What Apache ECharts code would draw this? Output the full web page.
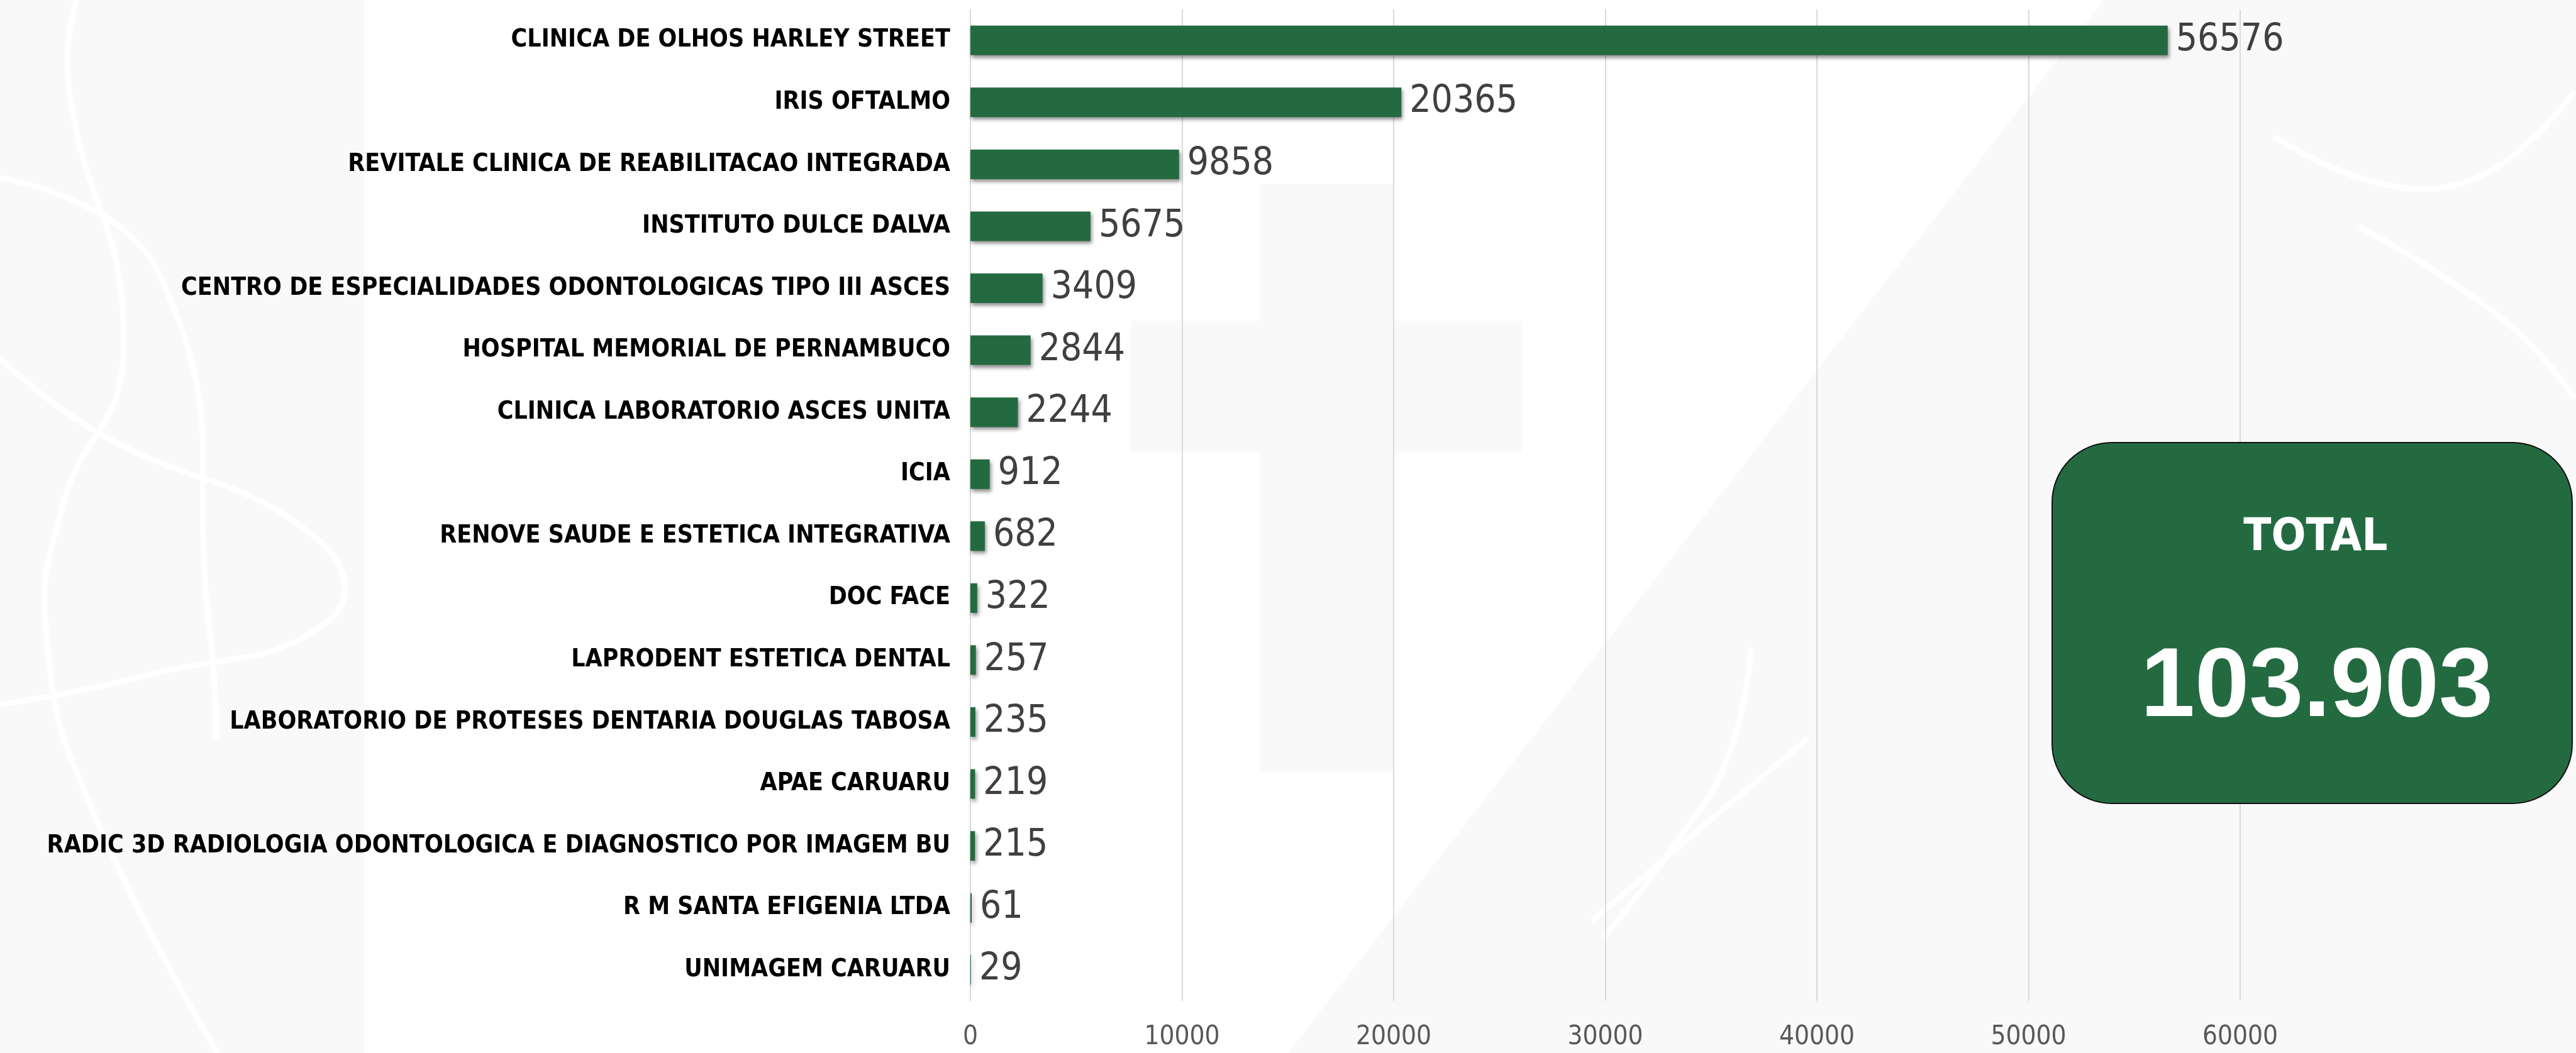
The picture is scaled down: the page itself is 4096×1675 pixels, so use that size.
<!DOCTYPE html>
<html>
<head>
<meta charset="utf-8">
<script src="https://cdn.jsdelivr.net/npm/echarts@6/dist/echarts.min.js"></script>
<style>
html,body{margin:0;padding:0;background:#ffffff;}
#chart{width:4096px;height:1675px;}
</style>
</head>
<body>
<div id="chart"></div>
<script>
var categories = [
  "CLINICA DE OLHOS HARLEY STREET",
  "IRIS OFTALMO",
  "REVITALE CLINICA DE REABILITACAO INTEGRADA",
  "INSTITUTO DULCE DALVA",
  "CENTRO DE ESPECIALIDADES ODONTOLOGICAS TIPO III ASCES",
  "HOSPITAL MEMORIAL DE PERNAMBUCO",
  "CLINICA LABORATORIO ASCES UNITA",
  "ICIA",
  "RENOVE SAUDE E ESTETICA INTEGRATIVA",
  "DOC FACE",
  "LAPRODENT ESTETICA DENTAL",
  "LABORATORIO DE PROTESES DENTARIA DOUGLAS TABOSA",
  "APAE CARUARU",
  "RADIC 3D RADIOLOGIA ODONTOLOGICA E DIAGNOSTICO POR IMAGEM BU",
  "R M SANTA EFIGENIA LTDA",
  "UNIMAGEM CARUARU"
];
var values = [56576, 20365, 9858, 5675, 3409, 2844, 2244, 912, 682, 322, 257, 235, 219, 215, 61, 29];
var axisTicks = [0, 10000, 20000, 30000, 40000, 50000, 60000];
var totalTitle = "TOTAL";
var totalValue = "103.903";

var S = 0.904;
function sc(pts){ return pts.map(function(p){ return [p[0]*S, p[1]*S]; }); }
var bgGrey = '#f9f9f9';
var stroke = function(pts){
  return {type:'polyline', z:-8, silent:true, shape:{points:sc(pts), smooth:0.5},
    style:{stroke:'#ffffff', lineWidth:9, fill:null}};
};

var chart = echarts.init(document.getElementById('chart'));
var option = {
  backgroundColor: '#ffffff',
  animation: false,
  graphic: [
    {type:'rect', z:-10, silent:true, shape:{x:0, y:0, width:579, height:1675}, style:{fill:bgGrey}},
    {type:'polygon', z:-10, silent:true, shape:{points:[[3345,0],[4096,0],[4096,1675],[2048,1675]]}, style:{fill:bgGrey}},
    {type:'rect', z:-10, silent:true, shape:{x:2003, y:292, width:212, height:937}, style:{fill:bgGrey}},
    {type:'rect', z:-10, silent:true, shape:{x:1797, y:510, width:623, height:210}, style:{fill:bgGrey}},
    stroke([[0,313],[281,484],[370,1121],[380,1300]]),
    stroke([[134,0],[121,153],[217,614],[108,897],[83,1133],[159,1417],[383,1852]]),
    stroke([[0,630],[170,760],[560,950],[580,1090],[250,1190],[0,1240]]),
    stroke([[4000,240],[4300,330],[4528,160]]),
    stroke([[4150,400],[4400,560],[4528,700]]),
    stroke([[3080,1140],[3040,1330],[2950,1480],[2820,1650]]),
    stroke([[3180,1300],[3000,1450],[2800,1620]]),
    {
      type:'rect', z:50,
      shape:{x:3263, y:704, width:827, height:574, r:95},
      style:{fill:'#246A41', stroke:'#111111', lineWidth:2}
    },
    {
      type:'text', z:51,
      style:{x:3682, y:856, text: totalTitle, fill:'#ffffff',
        font:'bold 72px "DejaVu Sans Condensed", "DejaVu Sans", sans-serif',
        align:'center', verticalAlign:'middle'}
    },
    {
      type:'text', z:51,
      style:{x:3684, y:1096, text: totalValue, fill:'#ffffff',
        font:'bold 155px "Liberation Sans", Arial, sans-serif',
        align:'center', verticalAlign:'middle'}
    }
  ],
  grid: {left:1543, right:534, top:15, bottom:83, containLabel:false, outerBoundsMode:'none'},
  xAxis: {
    type:'value', min:0, max:60000, interval:10000,
    axisLine:{show:false}, axisTick:{show:false},
    splitLine:{show:true, lineStyle:{color:'#d9d9d9', width:2}},
    axisLabel:{
      margin:37, color:'#595959', fontSize:42,
      fontFamily:'"DejaVu Sans Condensed", "DejaVu Sans", sans-serif',
      formatter: function(v){ return axisTicks.indexOf(v) >= 0 ? String(v) : ''; }
    }
  },
  yAxis: {
    type:'category', data:categories, inverse:true,
    axisLine:{show:true, lineStyle:{color:'#d9d9d9', width:2}},
    axisTick:{show:false},
    axisLabel:{
      margin:32, color:'#000000', fontSize:39, fontWeight:'bold',
      fontFamily:'"DejaVu Sans Condensed", "DejaVu Sans", sans-serif'
    }
  },
  series: [{
    type:'bar', data:values, barWidth:47,
    itemStyle:{color:'#246A41', shadowColor:'rgba(0,0,0,0.45)', shadowBlur:6, shadowOffsetX:2, shadowOffsetY:4},
    label:{
      show:true, position:'right', distance:13, color:'#404040', fontSize:60,
      fontFamily:'"DejaVu Sans Condensed", "DejaVu Sans", sans-serif'
    }
  }]
};
chart.setOption(option);
</script>
</body>
</html>
